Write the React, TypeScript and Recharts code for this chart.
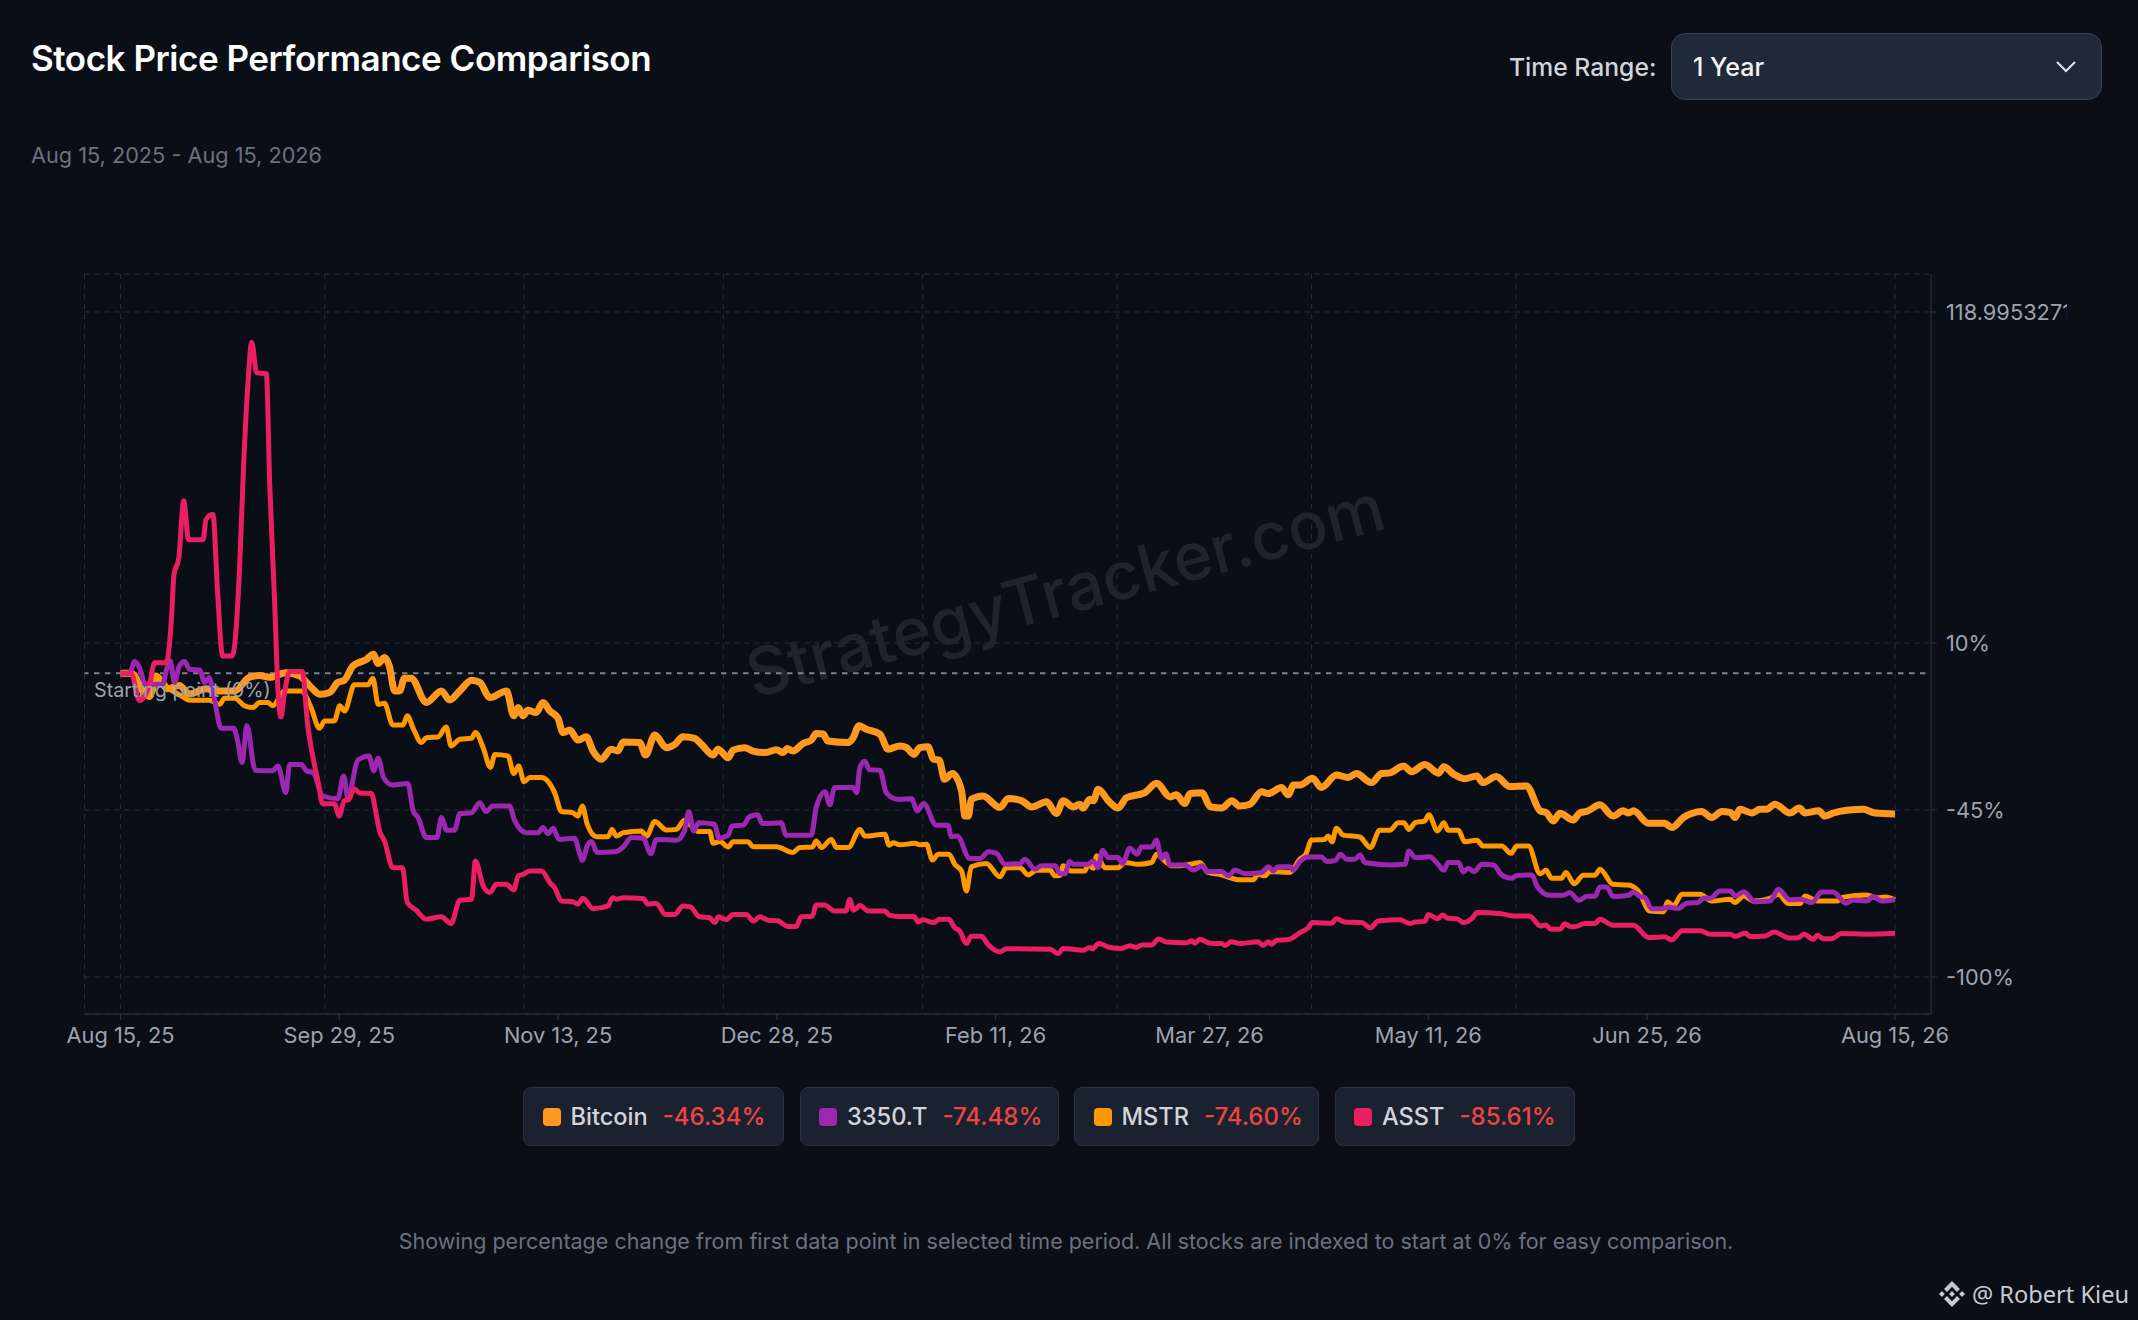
import { LineChart, Line, XAxis, YAxis, CartesianGrid, ReferenceLine } from "recharts";

// [day since Aug 15 2025, % change]
const bitcoin = [
  [0,0],[2.2,0],[4.6,-5.8],[6,-7.4],[7.3,-0.9],[9.7,-5.1],[12.1,-4],[14.2,-6.8],[17.6,-5.1],[20,-5.8],[23.5,-5.8],[26.5,-1.3],[28.5,-0.75],[30.7,-1.3],[34,0.2],[36.8,-0.8],[38.9,-4.1],[41,-6.9],[43,-6.3],[44.7,-3],[46,-2.3],[47.8,2.4],[50.6,4.6],[52,6.3],[53,3.2],[54.3,5.2],[55.3,2.4],[56.4,-5.8],[57.4,-5.8],[58.4,-1.6],[59.8,-1.6],[62.9,-9.6],[66,-5.8],[67.7,-8.8],[69.8,-5.8],[72.2,-2.3],[73.9,-3],[76,-8],[79.4,-5.8],
  [80.9,-14],[81.8,-11.3],[82.8,-14],[83.8,-12.2],[85.5,-12.9],[86.9,-9.6],[88.3,-12.4],[90,-14.8],[91,-19.5],[92.4,-18.7],[94.1,-22],[95.8,-20.9],[97.2,-25.6],[98.9,-28.3],[100.9,-25],[102.3,-25.6],[103.4,-22.6],[106.8,-22.8],[108,-26.9],[109.9,-20.3],[112.3,-24.5],[114,-23.4],[115.7,-20.9],[118.1,-21.4],[119.5,-23.4],[121.9,-26.9],[122.9,-25],[125,-27.8],[126,-25.3],[128.4,-24.5],[130.1,-25.6],[132.5,-26.1],[134.9,-25.2],[136.3,-26.1],[137.1,-24.8],[138.3,-25.6],[140.4,-23.1],[142.1,-22],[143.1,-19.8],[144.5,-20],[145.5,-22.3],[149.7,-22.8],[150.7,-21.2],[151.9,-17.3],[153.4,-18.4],[156.2,-20],[157.9,-25],[160.3,-23.9],
  [161.7,-24.5],[163.2,-26.7],[164.4,-24.5],[166.1,-24.2],[167.2,-28.3],[168.4,-28.6],[169.5,-34.9],[171.1,-33],[173,-38.7],[173.7,-47],[174.4,-47],[175,-41.5],[177.4,-40.4],[180.9,-44.2],[182.6,-41.2],[185.4,-42],[187.4,-44],[190.5,-42.3],[192.5,-46.2],[193.9,-42],[196,-44],[197.3,-43.1],[198,-44.4],[199.4,-41.5],[200.1,-42],[201.1,-38.2],[203.2,-42],[205.2,-44.4],[206.9,-41],[210.7,-39.3],[213.1,-36.2],[215.9,-40.7],[217.2,-40],[218.9,-42.9],[220,-39.6],[222.4,-39.3],[224.2,-44],[226.5,-44.4],[228.6,-42],[230.2,-43.7],[232.3,-43.1],[234.7,-39],[236.1,-39.6],[238.8,-37.6],[240.2,-40],[241.3,-36.8],[242.6,-36.8],
  [245.2,-34.6],[247,-37.6],[250.1,-33.5],[252.5,-34.3],[254.2,-33],[257.3,-36],[259.4,-33],[261.1,-32.8],[263.9,-30.5],[265.6,-32.4],[268.3,-30],[271.1,-32.9],[272.2,-30.8],[274.2,-33.2],[276.5,-34.7],[279,-33.8],[280.2,-36],[283,-34],[285.8,-37.3],[289.2,-37.1],[292,-45.3],[293.3,-45.9],[294.7,-48.6],[296.1,-46.1],[298.8,-48.3],[300.2,-45.9],[301.6,-45.5],[304.3,-43.3],
  [307,-47],[309.1,-45.3],[310.2,-46],[311.2,-45.3],[314.3,-49.4],[317.6,-49.4],[319.1,-50.8],[321.5,-47.5],[325.2,-45.5],[327.3,-47.5],[329.4,-45.5],[331.2,-45.9],[332.1,-47.5],[333.1,-44.8],[335.6,-46],[337.2,-44.8],[338.6,-44.8],[340.3,-43.1],[343.4,-46],[345.3,-44.4],[346.5,-46],[349.3,-45.3],[350.6,-47],[352.3,-46],[355.1,-45.1],[358.5,-44.8],[360.9,-46],[365,-46.34],
];

const mstr = [
  [0,0],[2.9,-0.3],[3.9,-3.6],[6,-8],[7.7,-1.4],[9.7,-4.7],[12.5,-7.4],[14.2,-8.9],[18.3,-8.9],[20.4,-10.2],[21.4,-8.2],[23.5,-8.2],[25.5,-10.7],[27.2,-11.3],[28.6,-9.6],[30.3,-9.6],[31.3,-10.7],[33.7,-5.8],[37.2,-5.8],[39.2,-11.3],[40.9,-18.1],[42,-15.7],[44,-15.7],[45.1,-10.7],[46.1,-12.4],[48.1,-3.8],[50.9,-3.8],[51.9,-1.6],[53,-10.2],[54.3,-9.9],[56,-17],[58.1,-17],[59,-14],[60.2,-18.1],[61.9,-22.8],[62.9,-21.2],[65.3,-21],[67,-17.7],[68,-23.9],[69.8,-21.7],[72.2,-21.4],[73,-19.5],[74.6,-24.5],[76.1,-31],[77,-26.7],[79.7,-27.2],
  [80.9,-33],[81.9,-30.5],[83,-35.7],[84.2,-34.3],[86.6,-34.3],[89.3,-39.3],[90.7,-45.5],[93,-45.9],[94.1,-47],[95,-43.7],[96,-49.7],[97.9,-53.8],[100.3,-53.8],[101.1,-51.4],[102,-53.6],[103.4,-52.5],[107.1,-51.9],[108.2,-53.6],[109.9,-48.8],[112.3,-51.6],[114.3,-51.4],[116,-48.4],[117.4,-50.3],[118.8,-52.1],[121.2,-52.1],[121.9,-56],[123.3,-55.4],[125,-57.2],[126,-55.5],[129.1,-55.5],[130.1,-57.1],[134.9,-57.1],[138.3,-59],[139.7,-57.4],[142.3,-57.2],[143.1,-55.2],[144.2,-57.4],[146.2,-54.7],[147.3,-57.4],[149.7,-57.4],[152.1,-51.4],[153.1,-53.6],[157.2,-53],[158.1,-56.6],[158.9,-55.8],[160.3,-56.5],
  [163.4,-56],[164.4,-56.5],[165.8,-56.3],[167,-61.5],[168.2,-59.6],[170.4,-59.6],[171.6,-62.9],[173,-65.1],[174,-71.7],[175,-63.7],[178.1,-62.6],[180.9,-67],[182.2,-64],[185,-64],[186.7,-66.4],[188.4,-64.9],[191.2,-64.8],[192.2,-66.7],[193.3,-66.5],[193.9,-63.4],[195.6,-65.1],[198.4,-65.1],[199,-62.9],[200.1,-64.2],[200.8,-60.1],[202.5,-64],[205.2,-64],[206.6,-62.3],[209.3,-62.9],[212.1,-62.3],[213.1,-59.6],[215.2,-62.3],[216.2,-63.4],[219.3,-63.1],[220.7,-62.7],[222,-62.3],[223.7,-65.6],[226,-66.2],[230.2,-68],[233,-68],[234,-66.2],[235.4,-66.7],[236.4,-65.3],[240.5,-65.6],[242.6,-61.2],
  [243.8,-59.6],[245,-54.9],[247.7,-54.7],[248.4,-53.6],[249.2,-55.5],[250.1,-51],[251.5,-53.3],[254.9,-53.9],[257.1,-57.4],[259,-51.7],[261.1,-51.7],[262.8,-49.2],[264,-49.2],[265,-51.4],[266.3,-49.2],[268.3,-48.6],[269.1,-46.6],[270.9,-51.9],[272.2,-49.2],[273.1,-51.7],[275.2,-51.7],[276.5,-55.5],[279,-55],[280.3,-56.9],[284.1,-56.9],[286,-59.3],[287.2,-56.9],[289.6,-56.9],[292,-66],[293.2,-64.9],[294.4,-67.5],[296.4,-67.5],[297.3,-65.6],[299,-69.3],[300.9,-66.5],[303.3,-66.5],[304.3,-64.5],
  [307,-69.5],[310.2,-69.7],[312.2,-71.7],[314.6,-78.3],[317.4,-78.5],[318.2,-75.2],[319.4,-76.6],[321.2,-72.8],[324.9,-72.8],[327.3,-75],[331.1,-74.4],[332.1,-75.5],[333.9,-73.3],[335.9,-75],[339.3,-74.1],[341,-72.8],[343.1,-75.8],[345.5,-75.8],[346.5,-73.3],[349,-75],[353.1,-75],[354.4,-73.7],[359.2,-73],[361.3,-73.9],[363,-73.7],[365,-74.6],
];

const metaplanet = [
  [0,0],[1.9,0],[2.9,3.9],[3.9,1.9],[5.1,-3.6],[8.7,-3.6],[9.4,0.8],[10.2,4.1],[11.1,-3],[12.1,2.4],[13.2,3.9],[14.2,1.3],[16.3,1.1],[17.3,-3],[18.2,-1.4],[19.3,-8.5],[20.7,-18.1],[23.3,-18.1],[24.1,-22.3],[25,-29.4],[26,-17.3],[27.7,-31.9],[31.3,-32.1],[32.4,-30.5],[34,-39.3],[34.8,-30],[37.2,-30],[38.2,-32.1],[39.6,-32.7],[41.6,-40.4],[44.7,-41.3],[45.9,-33.8],[46.8,-41],[48.8,-28.6],[51.1,-27.2],[52.1,-32.1],[53,-28],[54.1,-34.3],[56,-36.8],[59.1,-36.3],[60.2,-45.3],[61.2,-47.5],[62.9,-54.1],[65.1,-54.1],[66,-47.5],[67.1,-51.7],[68.7,-51.7],[69.8,-46.2],[72.2,-45.9],[73.9,-42.6],[75.2,-45.5],[76.6,-43.7],[80,-43.7],
  [81.1,-48.6],[83.5,-52.5],[85.9,-52.5],[86.9,-50.8],[87.9,-52.8],[89,-51],[90.2,-54.7],[93.4,-54.3],[94.3,-58.5],[95,-61.6],[96,-56.8],[96.9,-55.4],[98,-59],[101.7,-58.8],[103.4,-57.2],[105.1,-54.1],[107.5,-54.3],[109.1,-59.4],[110.2,-54.7],[114.3,-55],[116,-51.9],[116.9,-45.6],[117.9,-51.9],[118.9,-49.2],[122.2,-49.7],[123.1,-54.3],[125,-53.3],[125.8,-50.3],[128.1,-50],[129.4,-47.2],[131.1,-46.6],[132,-49.5],[135.9,-49.2],[136.9,-53.3],[142.1,-53.3],[143.1,-44.2],[144.9,-39],[145.9,-43.3],[146.9,-37.6],[150.7,-37.6],[151.4,-39.3],[152.1,-31],[153.1,-29],[154.1,-31.8],[156.2,-31.9],[157.5,-39.3],[159.9,-41.5],
  [162.7,-41.3],[163.9,-45.3],[165.2,-42.9],[167.8,-50],[170.2,-50],[170.9,-53.8],[172.1,-53.6],[174.7,-61],[176.8,-61],[178.5,-58.8],[180.2,-59.3],[181.9,-62.9],[185,-62.7],[186,-61.2],[188.1,-64.5],[189.5,-63.4],[192.2,-63.4],[193.3,-66],[194.3,-66],[195.2,-62],[196,-62.9],[199,-62.9],[200.1,-61.8],[201.1,-64],[202,-58.3],[203.2,-60.7],[205.2,-60.7],[206.1,-62.6],[207.6,-57.6],[209.1,-59.6],[210,-57.2],[212.1,-57.2],[213.1,-54.9],[214.1,-60.9],[215,-59.4],[215.9,-63.1],[218.9,-63.1],[220.7,-64.8],[222.4,-63.4],[223.7,-65.3],[226.5,-65.3],[227.9,-66.7],[229.2,-64.8],[231.3,-66],[234.7,-65.6],[236.1,-63.7],[237.1,-65.1],[238.1,-63.7],[240.5,-63.7],[241.2,-64.9],[242.6,-62],
  [244.3,-60.5],[247,-60.5],[248.2,-62],[250,-61.5],[250.9,-59.6],[252.2,-61.2],[253.9,-61.2],[255,-59.8],[255.9,-62.3],[261.1,-63.1],[264.2,-62.9],[265,-58.5],[266.3,-60.7],[269.3,-60.4],[271,-62.9],[272.2,-64.9],[273.1,-62.3],[275.2,-62.3],[276.2,-65.4],[277.2,-64.2],[278.4,-65.3],[280,-62.9],[282.4,-63.1],[284.1,-66.4],[286.1,-67.5],[287.2,-66.6],[290.3,-66.4],[291.4,-70.2],[294,-73.1],[296.8,-73.1],[298.1,-72.2],[300,-74.8],[301.6,-73.4],[303.3,-73.4],[304.3,-70.4],
  [305.7,-70.4],[307,-73.5],[310.2,-73.1],[311.2,-72],[312.6,-73.5],[313.6,-73.9],[314.9,-77.5],[317,-77.5],[318.4,-77],[320.4,-77.4],[322.2,-75.7],[324.5,-75.5],[325.6,-74.1],[327,-74.1],[329,-71.7],[331.1,-71.7],[332.2,-73.3],[333.9,-71.9],[336.2,-75.2],[339.3,-75],[341,-71.1],[343.4,-74.6],[345.5,-74.4],[347.9,-75.5],[349.9,-72],[352.3,-72],[354.9,-75.7],[356.4,-74.7],[359.2,-75],[360.5,-73.5],[362.3,-75],[365,-74.48],
];

const asst = [
  [0,0],[2.2,0],[3.9,-9],[6,-3.6],[7,3.5],[9.4,3.5],[10.5,18.4],[11,32.6],[12,38],[13,56.8],[14,44],[17,44],[17.6,50.7],[19,52.4],[20,26],[21,5.7],[23,5.7],[24.5,34.8],[25.3,67.8],[26.2,95],[27,109],[28,99],[30,98.7],[30.7,62],[31.7,23.8],[32.4,-5.8],[33,-14.4],[33.7,-6.9],[34.8,0.6],[37.4,0.6],[38.5,-17],[39.6,-27.8],[40.6,-35.4],[41.6,-43],[44,-43],[45,-47],[46,-42],[47,-41.5],[48,-38],[49.2,-39.4],[51.6,-39.6],[52.6,-46.4],[53.3,-52],[54.3,-55.2],[56,-64],[58,-64],[59,-75.5],[60.8,-78],[62.9,-81],[66,-80.2],[68,-82.4],[69.8,-74.7],[72.2,-74.4],[73,-61.8],[74.6,-70],[76,-72.2],[77.3,-69.5],[79.4,-69.5],
  [80.9,-71.4],[81.8,-66.7],[82.8,-66.2],[84.2,-65.1],[86.6,-65.1],[88.3,-68.9],[89.3,-70.6],[90.7,-75],[93,-75.2],[94.1,-76],[95.1,-74.1],[97.2,-77.5],[100.3,-76.6],[101.2,-73.9],[102,-74.4],[103.4,-73.9],[107.5,-74.2],[108.5,-76],[110.2,-75.8],[112.1,-79.4],[114,-79.4],[115.7,-76.6],[117.2,-76.9],[119.1,-80.2],[121.2,-80.5],[122.2,-82.1],[123,-80.2],[124.6,-81.1],[126,-79.4],[128.7,-79.4],[130.2,-81.6],[131.5,-80.2],[133.2,-81.3],[135.2,-81.5],[137.3,-83.4],[139,-83.4],[140,-80.2],[142.3,-80],[143.1,-76.3],[144.8,-76.3],[146.9,-78.3],[149.2,-78.3],[150,-74.5],[150.8,-78],[152.1,-76.5],[153.8,-78.3],[157.2,-78.3],[158.2,-79.7],[160.3,-80.1],
  [163.2,-80.1],[164.1,-81.9],[165.1,-81.2],[167.2,-82.1],[168.5,-81],[170.4,-81],[171.6,-83.8],[172.6,-84.8],[174,-89],[175,-86.6],[177.1,-86.6],[178.4,-89.2],[180.9,-91.7],[182.2,-90.7],[191.2,-90.9],[192.9,-92.3],[193.9,-90.6],[198,-91.2],[199.4,-90.3],[199.9,-90.8],[201.2,-89],[203.5,-90.3],[205.9,-90.6],[207.6,-89.7],[209,-90.3],[210,-89.5],[212.1,-89.5],[213.5,-87.5],[215.2,-88.5],[219.3,-88.7],[220.3,-88.1],[221,-88.9],[222,-87.6],[224.1,-88.9],[226.5,-89],[227.2,-89.6],[228.5,-88.4],[230.2,-89],[234,-88.4],[235,-89.6],[236.1,-88.4],[236.8,-89.2],[237.8,-87.9],[240.2,-87.7],[242.6,-85.4],
  [244.3,-83.8],[245.2,-82.1],[249.1,-82.3],[250.1,-80.8],[251.8,-81.9],[255.3,-82.1],[257.1,-83.8],[258.7,-81.6],[263.2,-81.2],[265.2,-82.4],[266.3,-81.9],[268.3,-81.7],[269,-79.4],[270.9,-80.8],[272,-79.6],[273,-80.7],[274.9,-80.8],[276.2,-82.1],[278,-80.7],[279.1,-78.8],[283.7,-79.1],[286.5,-79.9],[289.8,-79.9],[292.1,-83.2],[293.2,-82.9],[294.2,-84.3],[296.1,-84.3],[297.1,-82.5],[298.3,-83.5],[299.5,-83.3],[301.2,-82.4],[303.3,-82.4],[304.3,-81],
  [307,-83],[311.2,-83],[314.3,-87],[317.6,-86.8],[319.1,-87.8],[321.2,-84.8],[324.9,-84.8],[327,-85.9],[331.1,-85.9],[332.1,-86.7],[334.2,-85.5],[335.2,-86.7],[338.3,-86.5],[340.1,-85.2],[343.4,-87.2],[345.1,-87.1],[346.3,-85.9],[348.2,-87.6],[349,-86.3],[350.3,-87.4],[352,-87.4],[354,-85.7],[359.2,-85.9],[365,-85.61],
];

const tickDays = [0, 45, 90, 135, 180, 224, 269, 314, 365];
const tickLabels = ["Aug 15, 25", "Sep 29, 25", "Nov 13, 25", "Dec 28, 25", "Feb 11, 26", "Mar 27, 26", "May 11, 26", "Jun 25, 26", "Aug 15, 26"];
const gridDays = [0, 42, 83, 124, 165, 205, 245, 287, 365];
const yTicks = [-100, -45, 10, 118.99532710280374];

const legendNames = ["Bitcoin", "3350.T", "MSTR", "ASST"];
const legendValues = ["-46.34%", "-74.48%", "-74.60%", "-85.61%"];
const legendColors = ["#ff981f", "#9c27b0", "#ff9800", "#e91e63"];
const legendWidths = [261, 259, 245, 240];

const FONT = "Inter, sans-serif";
const X_PAD = 36;
const toPoints = (rows: number[][]) => rows.map(([day, pct]) => ({ day, pct }));

export default function App() {
  return (
    <div style={{ position: "absolute", left: 0, top: 0, width: 2138, height: 1320, background: "#0a0e17", fontFamily: FONT, overflow: "hidden" }}>
      <div style={{ position: "absolute", left: 31, top: 35, fontSize: 35, fontWeight: 600, color: "#fff", lineHeight: "46px", letterSpacing: "-0.47px" }}>
        Stock Price Performance Comparison
      </div>
      <div style={{ position: "absolute", left: 31, top: 141, fontSize: 21.7, color: "#6b7280", lineHeight: "28px" }}>
        Aug 15, 2025 - Aug 15, 2026
      </div>

      {/* Time range selector */}
      <div style={{ position: "absolute", left: 1509, top: 52, fontSize: 24.7, fontWeight: 500, color: "#d1d5db", lineHeight: "30px" }}>Time Range:</div>
      <div style={{ position: "absolute", left: 1671, top: 33, width: 431, height: 67, boxSizing: "border-box", background: "#1f2937", border: "1.5px solid #374151", borderRadius: 14 }}>
        <span style={{ position: "absolute", left: 21, top: 18, fontSize: 25, fontWeight: 500, color: "#f3f4f6", lineHeight: "30px" }}>1 Year</span>
        <svg style={{ position: "absolute", left: 382, top: 23 }} width="24" height="20" viewBox="0 0 24 20">
          <polyline points="3,5 12,14 21,5" fill="none" stroke="#e5e7eb" strokeWidth="2" />
        </svg>
      </div>

      {/* Watermark */}
      <div style={{ position: "absolute", left: 1065, top: 590, transform: "translate(-50%, -50%) rotate(-15deg)", fontSize: 66, fontWeight: 500, color: "#1e232e", whiteSpace: "nowrap" }}>
        StrategyTracker.com
      </div>

      <div style={{ position: "absolute", left: 0, top: 261 }}>
        <LineChart width={2067} height={800} margin={{ top: 13, right: 0, bottom: 0, left: 84.5 }}>
          <CartesianGrid
            stroke="#262c38"
            strokeDasharray="5 5"
            verticalCoordinatesGenerator={({ offset }: any) => [
              offset.left,
              ...gridDays.map((d) => offset.left + X_PAD + (d / 365) * (offset.width - 2 * X_PAD)),
            ]}
          />
          <XAxis
            dataKey="day"
            type="number"
            domain={[0, 365]}
            ticks={tickDays}
            interval={0}
            padding={{ left: X_PAD, right: X_PAD }}
            height={47}
            tickMargin={8}
            tickFormatter={(d: number) => tickLabels[tickDays.indexOf(d)]}
            stroke="#2d3340"
            tick={{ fill: "#9ca3af", fontSize: 21.8, fontFamily: FONT }}
            allowDuplicatedCategory={false}
          />
          <YAxis
            orientation="right"
            type="number"
            domain={[-112.2, 131.5]}
            ticks={yTicks}
            interval={0}
            width={136}
            tickMargin={9}
            tickFormatter={(v: number) => `${v}%`}
            stroke="#2d3340"
            tick={{ fill: "#9ca3af", fontSize: 21.8, fontFamily: FONT, textAnchor: "start" }}
          />
          <ReferenceLine
            y={0}
            stroke="#7b818d"
            strokeWidth={2}
            strokeDasharray="0 5.5 5.5 0"
            label={{ value: "Starting point (0%)", position: "insideTopLeft", offset: 9.5, fill: "#9ca3af", fontSize: 19.7, fontFamily: FONT }}
          />
          <Line data={toPoints(bitcoin)} dataKey="pct" name="Bitcoin" type="monotone" stroke="#ff981f" strokeWidth={7} dot={false} isAnimationActive={false} />
          <Line data={toPoints(mstr)} dataKey="pct" name="MSTR" type="monotone" stroke="#ff9800" strokeWidth={5} dot={false} isAnimationActive={false} />
          <Line data={toPoints(metaplanet)} dataKey="pct" name="3350.T" type="monotone" stroke="#9c27b0" strokeWidth={5} dot={false} isAnimationActive={false} />
          <Line data={toPoints(asst)} dataKey="pct" name="ASST" type="monotone" stroke="#e91e63" strokeWidth={5} dot={false} isAnimationActive={false} />
        </LineChart>
      </div>

      {/* Legend chips */}
      <div style={{ position: "absolute", left: 523, top: 1087, display: "flex", gap: 15.5 }}>
        {legendNames.map((name, i) => (
          <div key={name} style={{ width: legendWidths[i], height: 59, boxSizing: "border-box", background: "#1a2230", border: "1px solid #2a3240", borderRadius: 8, display: "flex", alignItems: "center", paddingLeft: 18.5 }}>
            <span style={{ width: 18, height: 18, background: legendColors[i], borderRadius: 4, marginRight: 10 }} />
            <span style={{ fontSize: 23.6, fontWeight: 500, color: "#d1d5db", marginRight: 15 }}>{name}</span>
            <span style={{ fontSize: 24, fontWeight: 500, color: "#ef4444" }}>{legendValues[i]}</span>
          </div>
        ))}
      </div>

      <div style={{ position: "absolute", left: 0, width: 2132, top: 1228, textAlign: "center", fontSize: 21.5, color: "#6b7280", lineHeight: "26px" }}>
        Showing percentage change from first data point in selected time period. All stocks are indexed to start at 0% for easy comparison.
      </div>

      {/* Credit */}
      <svg style={{ position: "absolute", left: 1939, top: 1281 }} width="26" height="26" viewBox="0 0 24 24">
        <path fill="#c7cbd1" d="M16.624 13.9202l2.7175 2.7154-7.353 7.353-7.353-7.352 2.7175-2.7164 4.6355 4.6595 4.6356-4.6595zm4.6366-4.6366L24 12l-2.7154 2.7164L18.5682 12l2.6924-2.7164zm-9.272.001l2.7163 2.6914-2.7164 2.7174v-.001L9.2721 12l2.7164-2.7154zm-9.2722-.001L5.4088 12l-2.6914 2.6924L0 12l2.7164-2.7164zM11.9885.0115l7.353 7.329-2.7174 2.7154-4.6356-4.6356-4.6355 4.6595-2.7174-2.7154 7.353-7.353z" />
      </svg>
      <div style={{ position: "absolute", left: 1972, top: 1279, fontSize: 23.6, color: "#c7cbd1", lineHeight: "30px", fontFamily: "'Noto Sans', sans-serif", whiteSpace: "nowrap" }}>@ Robert Kieu</div>
    </div>
  );
}
